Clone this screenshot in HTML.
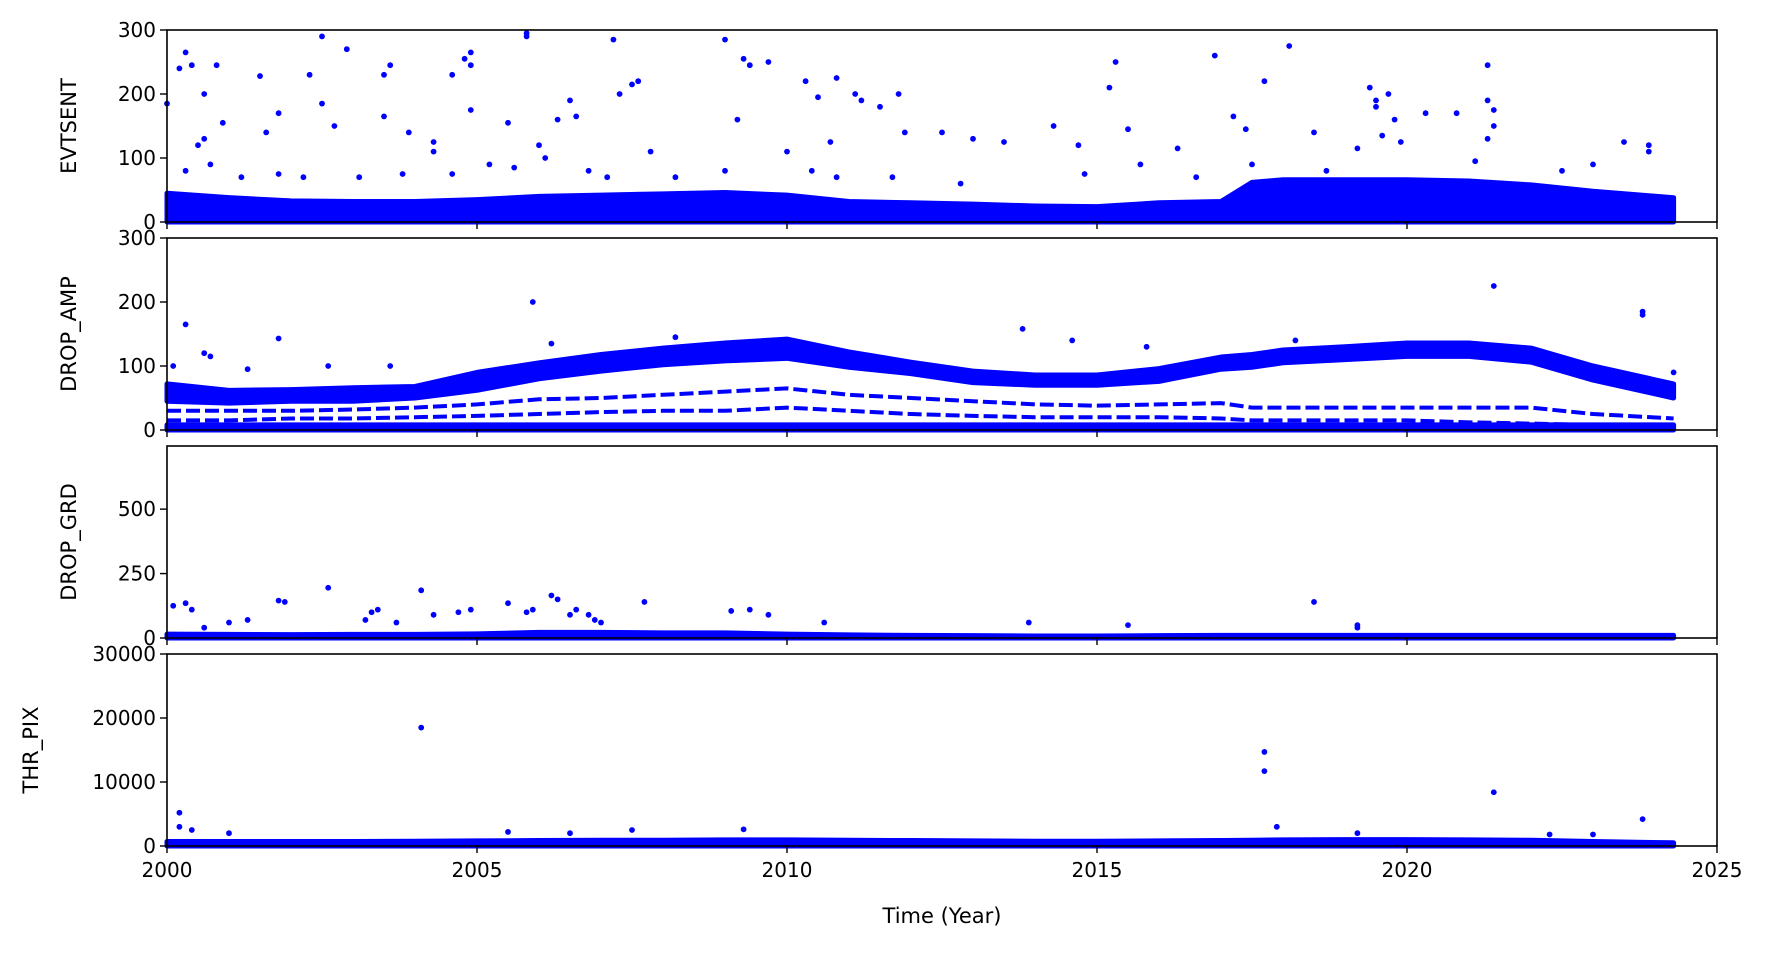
<!DOCTYPE html>
<html><head><meta charset="utf-8"><style>
body{margin:0;background:#fff}
svg{display:block;font-family:"DejaVu Sans","Liberation Sans",sans-serif}
</style></head><body>
<svg id="chart" width="1771" height="953" xmlns="http://www.w3.org/2000/svg"></svg>
<script>
const xTicks=[2000,2005,2010,2015,2020,2025];
const p1Ticks=[0,100,200,300];
const p2Ticks=[0,100,200,300];
const p3Ticks=[0,250,500];
const p4Ticks=[0,10000,20000,30000];
const bandYears=[2000,2001,2002,2003,2004,2005,2006,2007,2008,2009,2010,2011,2012,2013,2014,2015,2016,2017,2017.5,2018,2019,2020,2021,2022,2023,2024.3];
const evtBand=[45,38,33,32,32,35,40,42,44,46,42,32,30,28,25,24,30,32,62,66,66,66,64,58,48,38];
const ampUpper=[72,62,63,66,68,90,105,118,128,136,142,122,106,92,86,86,96,114,118,125,130,136,136,128,100,72];
const ampLower=[45,42,45,45,50,62,80,92,102,108,112,98,88,74,70,70,76,95,98,105,110,115,115,106,78,50];
const ampSub1=[30,30,30,32,35,40,48,50,55,60,65,55,50,45,40,38,40,42,35,35,35,35,35,35,25,18];
const ampSub2=[15,15,18,18,20,22,25,28,30,30,35,30,25,22,20,20,20,18,15,15,15,15,12,10,8,8];
const grdBand=[15,14,13,14,14,16,22,22,20,20,15,12,10,9,8,8,9,10,10,10,10,10,10,10,10,10];
const thrBand=[700,700,700,700,750,800,850,900,900,950,950,900,850,800,750,750,800,850,900,950,1000,1000,950,900,700,500];
const evtOutX=[2000.0,2000.2,2000.3,2000.4,2000.6,2000.8,2000.9,2000.6,2000.5,2001.5,2001.8,2001.6,2002.3,2002.5,2002.5,2002.7,2002.9,2003.5,2003.6,2003.5,2003.9,2004.3,2004.3,2004.6,2004.8,2004.9,2004.9,2004.9,2005.5,2005.8,2005.8,2006.0,2006.3,2006.5,2006.6,2007.2,2007.3,2007.5,2007.6,2007.8,2009.0,2009.2,2009.3,2009.4,2009.7,2010.0,2010.3,2010.5,2010.7,2010.8,2011.1,2011.2,2011.5,2011.8,2011.9,2012.5,2013.0,2013.5,2014.3,2014.7,2015.2,2015.3,2015.5,2016.3,2016.9,2017.2,2017.4,2017.7,2018.1,2018.5,2019.2,2019.4,2019.5,2019.5,2019.6,2019.7,2019.8,2019.9,2020.3,2020.8,2021.3,2021.3,2021.4,2021.4,2021.3,2023.5,2023.9,2023.9,2000.3,2000.7,2001.2,2001.8,2002.2,2003.1,2003.8,2004.6,2005.2,2005.6,2006.1,2006.8,2007.1,2008.2,2009.0,2010.4,2010.8,2011.7,2012.8,2014.8,2015.7,2016.6,2017.5,2018.7,2021.1,2022.5,2023.0];
const evtOutY=[185,240,265,245,200,245,155,130,120,228,170,140,230,290,185,150,270,230,245,165,140,125,110,230,255,265,245,175,155,290,295,120,160,190,165,285,200,215,220,110,285,160,255,245,250,110,220,195,125,225,200,190,180,200,140,140,130,125,150,120,210,250,145,115,260,165,145,220,275,140,115,210,190,180,135,200,160,125,170,170,245,190,175,150,130,125,120,110,80,90,70,75,70,70,75,75,90,85,100,80,70,70,80,80,70,70,60,75,90,70,90,80,95,80,90];
const ampOutX=[2000.1,2000.3,2000.6,2000.7,2001.3,2001.8,2002.6,2003.6,2005.9,2006.2,2008.2,2013.8,2014.6,2015.8,2018.2,2021.4,2023.8,2023.8,2024.3];
const ampOutY=[100,165,120,115,95,143,100,100,200,135,145,158,140,130,140,225,185,180,90];
const grdOutX=[2000.1,2000.3,2000.4,2000.6,2001.0,2001.3,2001.8,2001.9,2002.6,2003.2,2003.3,2003.4,2003.7,2004.1,2004.3,2004.7,2004.9,2005.5,2005.8,2005.9,2006.2,2006.3,2006.5,2006.6,2006.8,2006.9,2007.0,2007.7,2009.1,2009.4,2009.7,2010.6,2013.9,2015.5,2018.5,2019.2,2019.2];
const grdOutY=[125,135,110,40,60,70,145,140,195,70,100,110,60,185,90,100,110,135,100,110,165,150,90,110,90,70,60,140,105,110,90,60,60,50,140,50,40];
const thrOutX=[2000.2,2000.2,2000.4,2001.0,2004.1,2005.5,2006.5,2007.5,2009.3,2017.7,2017.7,2017.9,2019.2,2021.4,2023.8,2022.3,2023.0];
const thrOutY=[5200,3000,2500,2000,18500,2200,2000,2500,2600,14700,11700,3000,2000,8400,4200,1800,1800];

const NS="http://www.w3.org/2000/svg";
const svg=document.getElementById('chart');
const L=167,R=1717,BLUE="#0000ff";
const X=v=>L+(v-2000)/25*(R-L);
function el(t,a,p){const e=document.createElementNS(NS,t);for(const k in a)e.setAttribute(k,a[k]);(p||svg).appendChild(e);return e;}
const panels=[
 {name:'evtsent',label:'EVTSENT',top:30,max:300,ticks:p1Ticks,lx:76},
 {name:'drop-amp',label:'DROP_AMP',top:238,max:300,ticks:p2Ticks,lx:76},
 {name:'drop-grd',label:'DROP_GRD',top:446,max:745,ticks:p3Ticks,lx:76},
 {name:'thr-pix',label:'THR_PIX',top:654,max:30000,ticks:p4Ticks,lx:38}];
const H=192;
panels.forEach((p,i)=>{
 const g=el('g',{});
 
 
 p.g=g;
 p.Y=v=>p.top+H-v/p.max*H;
});
function area(p,up,lo,nm){
 let d='';
 bandYears.forEach((y,i)=>{d+=(i?'L':'M')+X(y)+','+p.Y(up[i]);});
 for(let i=bandYears.length-1;i>=0;i--)d+='L'+X(bandYears[i])+','+p.Y(lo?lo[i]:0);
 const e=el('path',{d:d+'Z',fill:BLUE,stroke:BLUE,'stroke-width':5,'stroke-linejoin':'round'},p.g);
 
 
}
function line(p,vals,nm){
 const d=bandYears.map((y,i)=>(i?'L':'M')+X(y)+','+p.Y(vals[i])).join('');
 const e=el('path',{d:d,fill:'none',stroke:BLUE,'stroke-width':4,'stroke-dasharray':'14 5'},p.g);
 
 
}
function pts(p,xs,ys,nm){
 xs.forEach((x,i)=>{
  const c=el('circle',{cx:X(x),cy:p.Y(ys[i]),r:2.9,fill:BLUE},p.g);
  
  
 });
}
area(panels[0],evtBand,null,'evtsent-band');
pts(panels[0],evtOutX,evtOutY,'evtsent-point');
area(panels[1],ampUpper,ampLower,'drop-amp-band');
line(panels[1],ampSub1,'drop-amp-subband');
line(panels[1],ampSub2,'drop-amp-subband');
area(panels[1],bandYears.map(()=>8),null,'drop-amp-base');
pts(panels[1],ampOutX,ampOutY,'drop-amp-point');
area(panels[2],grdBand,null,'drop-grd-band');
pts(panels[2],grdOutX,grdOutY,'drop-grd-point');
area(panels[3],thrBand,null,'thr-pix-band');
pts(panels[3],thrOutX,thrOutY,'thr-pix-point');

panels.forEach((p,i)=>{
 const fr=el('rect',{x:L,y:p.top,width:R-L,height:H,fill:'none',stroke:'#000','stroke-width':1.6});
 
 
 p.ticks.forEach(t=>{
  const y=p.Y(t);
  el('line',{x1:L-7,x2:L,y1:y,y2:y,stroke:'#000','stroke-width':1.4});
  const tx=el('text',{x:L-11,y:y+7,'text-anchor':'end','font-size':20,fill:'#000'});
  tx.textContent=t;
  
  
 });
 xTicks.forEach(t=>{
  el('line',{x1:X(t),x2:X(t),y1:p.top+H,y2:p.top+H+7,stroke:'#000','stroke-width':1.4});
 });
 const yl=el('text',{x:p.lx,y:p.top+H/2,'text-anchor':'middle','font-size':21,transform:`rotate(-90 ${p.lx} ${p.top+H/2})`});
 yl.textContent=p.label;
 
 
});
xTicks.forEach(t=>{
 const tx=el('text',{x:X(t),y:877,'text-anchor':'middle','font-size':20});
 tx.textContent=t;
 
 
});
const xt=el('text',{x:(L+R)/2,y:923,'text-anchor':'middle','font-size':21});
xt.textContent='Time (Year)';


</script>
</body></html>
